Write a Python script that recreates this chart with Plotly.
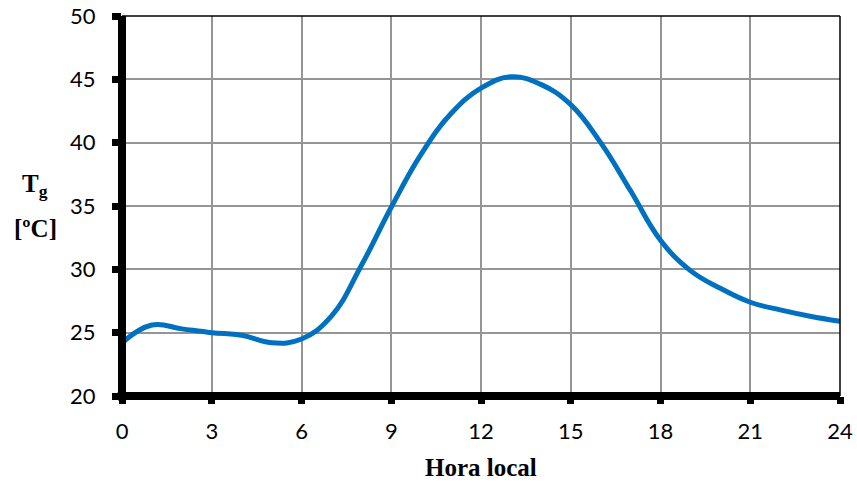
import plotly.graph_objects as go

# Globe temperature over the day
hours = [0, 1, 2, 3, 4, 5, 6, 7, 8, 9, 10, 11, 12, 13, 14, 15, 16, 17, 18, 19, 20, 21, 22, 23, 24]
tg = [24.2, 25.6, 25.3, 25.0, 24.8, 24.2, 24.5, 26.3, 30.3, 34.9, 39.1, 42.3, 44.3, 45.2, 44.6, 43.0, 40.0, 36.2, 32.3, 29.9, 28.5, 27.4, 26.8, 26.3, 25.9]

x_ticks = [0, 3, 6, 9, 12, 15, 18, 21, 24]
y_ticks = [20, 25, 30, 35, 40, 45, 50]

fig = go.Figure()
fig.add_trace(go.Scatter(
    x=hours, y=tg, mode="lines",
    line=dict(color="#0070C0", width=5, shape="spline", smoothing=1.2),
    hoverinfo="skip", showlegend=False,
))

tick_font = dict(family="Lato, Noto Sans, sans-serif", size=22, color="#000")

fig.update_layout(
    width=857, height=485,
    margin=dict(l=122, r=17, t=16, b=89),
    paper_bgcolor="white", plot_bgcolor="white",
    xaxis=dict(
        range=[0, 24], tickvals=x_ticks, ticktext=[str(v) for v in x_ticks],
        showgrid=True, gridcolor="#959595", gridwidth=1.5,
        zeroline=False, showline=False, automargin=False,
        ticks="outside", ticklen=7, tickwidth=7, tickcolor="#000",
        tickfont=tick_font, ticklabelstandoff=9,
    ),
    yaxis=dict(
        range=[20, 50], tickvals=y_ticks, ticktext=[str(v) for v in y_ticks],
        showgrid=True, gridcolor="#959595", gridwidth=1.5,
        zeroline=False, showline=False, automargin=False,
        ticks="outside", ticklen=9, tickwidth=7, tickcolor="#000",
        tickfont=tick_font, ticklabelstandoff=12,
    ),
)

# Frame: thin top and right borders, heavy left and bottom axes
fig.add_shape(type="line", xref="paper", yref="paper", x0=0, x1=1, y0=1, y1=1,
              line=dict(color="#000", width=1.5))
fig.add_shape(type="line", xref="paper", yref="paper", x0=1, x1=1, y0=0, y1=1,
              line=dict(color="#000", width=1.5))
fig.add_shape(type="line", xref="paper", yref="paper", x0=0, x1=0, y0=-0.012, y1=1.0,
              line=dict(color="#000", width=8))
fig.add_shape(type="line", xref="paper", yref="paper", x0=-0.006, x1=1.0, y0=0, y1=0,
              line=dict(color="#000", width=8))

title_font = dict(family="Liberation Serif, Times New Roman, serif", size=25, color="#000")
fig.add_annotation(
    text="<b>Hora local</b>", xref="paper", yref="paper",
    x=0.5, y=0, yshift=-71, xanchor="center", yanchor="middle",
    showarrow=False, font=title_font,
)
fig.add_annotation(
    text="<b>T<sub>g</sub></b>", xref="paper", yref="paper",
    x=0, xshift=-87, y=0.555, xanchor="center", yanchor="middle",
    showarrow=False, font=title_font,
)
fig.add_annotation(
    text="<b>[ºC]</b>", xref="paper", yref="paper",
    x=0, xshift=-87, y=0.442, xanchor="center", yanchor="middle",
    showarrow=False, font=title_font,
)

fig.write_html("out.html")
